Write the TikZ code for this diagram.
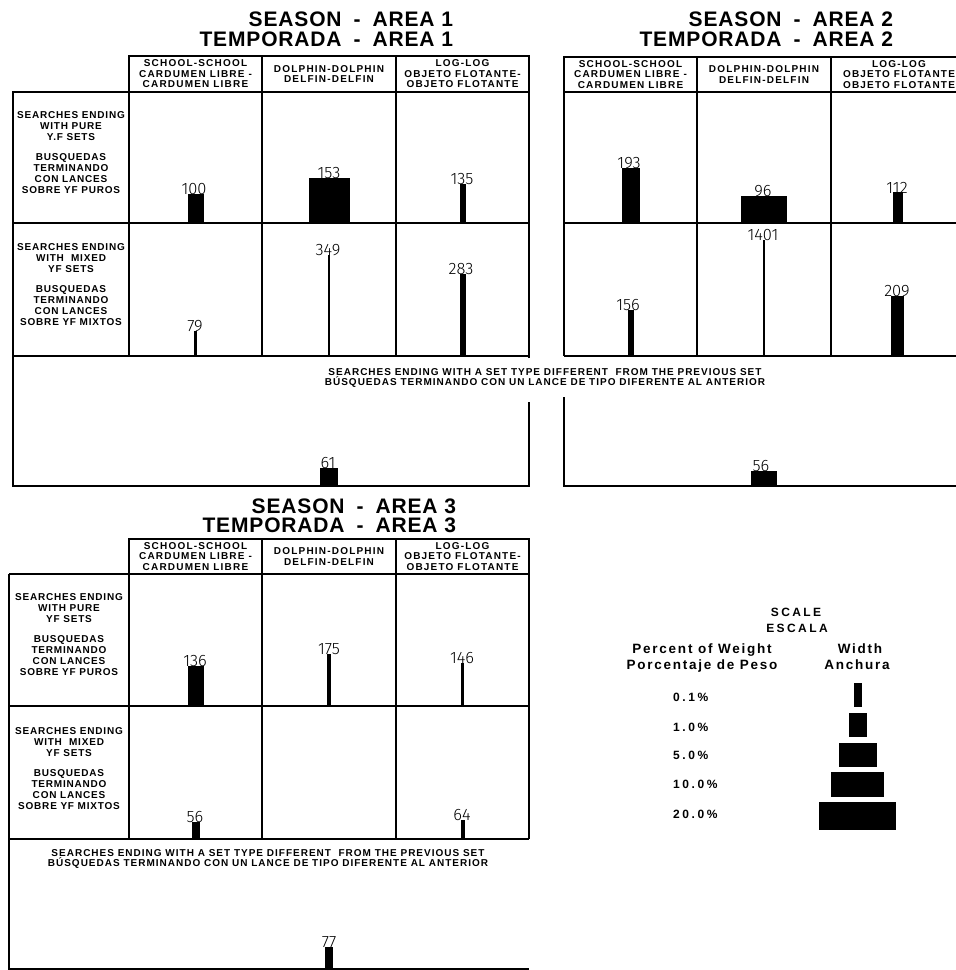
\documentclass[tikz,border=0pt]{standalone}
\usepackage{fontspec}
\setmainfont{Liberation Sans}
\newfontfamily\plotfont{Liberation Sans}
\newfontfamily\numfont{Fira Sans Light}

\begin{document}
\begin{tikzpicture}[
    x=1pt, y=-1pt,
    every node/.style={inner sep=0pt, outer sep=0pt},
    grid/.style={line width=1.4pt},
    bar/.style={fill=black},
    title/.style={anchor=east, font=\plotfont\bfseries\fontsize{21}{24}\selectfont\addfontfeature{LetterSpace=4}},
    colhead/.style={align=center, font=\plotfont\bfseries\fontsize{10}{10.5}\selectfont\addfontfeature{LetterSpace=12}},
    rowhead/.style={align=center, font=\plotfont\bfseries\fontsize{10}{11}\selectfont\addfontfeature{LetterSpace=8}},
    note/.style={align=center, font=\plotfont\bfseries\fontsize{10}{10}\selectfont\addfontfeature{LetterSpace=10}},
    count/.style={anchor=south, font=\numfont\fontsize{16.5}{17}\selectfont},
    scalehead/.style={font=\plotfont\bfseries\fontsize{12}{14}\selectfont\addfontfeature{LetterSpace=20}},
    scalesub/.style={anchor=base, font=\plotfont\bfseries\fontsize{13.5}{15}\selectfont\addfontfeature{LetterSpace=13}},
    pct/.style={anchor=west, font=\plotfont\bfseries\fontsize{12}{14}\selectfont\addfontfeature{LetterSpace=22}}
    ]
\useasboundingbox (0,0) rectangle (956,970);
\clip (0,0) rectangle (956,970);

% Area 1 - grid
\draw[grid] (129,56) rectangle (529,92);
\draw[grid] (262,56) -- (262,356) (396,56) -- (396,356) (129,92) -- (129,356);
\draw[grid] (13,223) -- (529,223) (13,356) -- (529,356);
\draw[grid] (529,358) -- (529,92) -- (13,92) -- (13,486) -- (529,486) -- (529,402);

% Area 1 - titles and headings
\node[title] (a1 season) at (453,19.5) {SEASON\hspace{12pt}-\hspace{12pt}AREA 1};
\node[title] (a1 temp) at (453,39.5) {TEMPORADA\hspace{12pt}-\hspace{12pt}AREA 1};
\node[colhead] (a1 school) at (195.5,74) {SCHOOL-SCHOOL\\CARDUMEN LIBRE -\\CARDUMEN LIBRE};
\node[colhead] (a1 dolphin) at (329,74) {DOLPHIN-DOLPHIN\\DELFIN-DELFIN};
\node[colhead] (a1 log) at (462.5,74) {LOG-LOG\\OBJETO FLOTANTE-\\OBJETO FLOTANTE};
\node[rowhead] (a1 pure) at (71,153) {SEARCHES ENDING\\WITH PURE\\Y.F SETS\\[9pt]BUSQUEDAS\\TERMINANDO\\CON LANCES\\SOBRE YF PUROS};
\node[rowhead] (a1 mixed) at (71,285) {SEARCHES ENDING\\WITH\ \ MIXED\\YF SETS\\[9pt]BUSQUEDAS\\TERMINANDO\\CON LANCES\\SOBRE YF MIXTOS};

% Area 1 - bars
\fill[bar] (187.5,194) rectangle (203.5,223);
\node[count] (a1 n100) at (194,195) {100};
\fill[bar] (308.5,178) rectangle (349.5,223);
\node[count] (a1 n153) at (329,179) {153};
\fill[bar] (459.5,184) rectangle (465.5,223);
\node[count] (a1 n135) at (462,185) {135};
\fill[bar] (193.7,331) rectangle (197.3,356);
\node[count] (a1 n79) at (195,332) {79};
\fill[bar] (328,255) rectangle (330,356);
\node[count] (a1 n349) at (328,256) {349};
\fill[bar] (459.5,274) rectangle (465.5,356);
\node[count] (a1 n283) at (461,275) {283};
\fill[bar] (320,468) rectangle (338,486);
\node[count] (a1 n61) at (328,469) {61};

% Note shared by areas 1 and 2
\node[note] (diff note) at (545,378) {SEARCHES ENDING WITH A SET TYPE DIFFERENT\ \ FROM THE PREVIOUS SET\\B\'USQUEDAS TERMINANDO CON UN LANCE DE TIPO DIFERENTE AL ANTERIOR};

% Area 2 - grid
\draw[grid] (564,57) rectangle (964,92);
\draw[grid] (564,92) -- (564,356) (697,57) -- (697,356) (831,57) -- (831,356);
\draw[grid] (564,223) -- (964,223) (564,356) -- (964,356);
\draw[grid] (564,397) -- (564,486) -- (964,486);

% Area 2 - titles and headings
\node[title] (a2 season) at (893,19.5) {SEASON\hspace{12pt}-\hspace{12pt}AREA 2};
\node[title] (a2 temp) at (893,39.5) {TEMPORADA\hspace{12pt}-\hspace{12pt}AREA 2};
\node[colhead] (a2 school) at (630.5,74.5) {SCHOOL-SCHOOL\\CARDUMEN LIBRE -\\CARDUMEN LIBRE};
\node[colhead] (a2 dolphin) at (764,74.5) {DOLPHIN-DOLPHIN\\DELFIN-DELFIN};
\node[colhead] (a2 log) at (899,74.5) {LOG-LOG\\OBJETO FLOTANTE\\OBJETO FLOTANTE};

% Area 2 - bars
\fill[bar] (621.5,168) rectangle (639.5,223);
\node[count] (a2 n193) at (629,169) {193};
\fill[bar] (741,196) rectangle (787,223);
\node[count] (a2 n96) at (763,197) {96};
\fill[bar] (892.5,192) rectangle (902.5,223);
\node[count] (a2 n112) at (897,193) {112};
\fill[bar] (627.5,310) rectangle (633.5,356);
\node[count] (a2 n156) at (628,311) {156};
\fill[bar] (763,240) rectangle (765,356);
\node[count] (a2 n1401) at (763,241) {1401};
\fill[bar] (891,296) rectangle (904,356);
\node[count] (a2 n209) at (897,297) {209};
\fill[bar] (751,471) rectangle (777,486);
\node[count] (a2 n56) at (761,472) {56};

% Area 3 - grid
\draw[grid] (129,539) rectangle (529,574);
\draw[grid] (262,539) -- (262,839) (396,539) -- (396,839) (129,574) -- (129,839) (529,574) -- (529,839);
\draw[grid] (9,574) -- (529,574) (9,706) -- (529,706) (9,839) -- (529,839);
\draw[grid] (9,574) -- (9,969) -- (529,969);

% Area 3 - titles and headings
\node[title] (a3 season) at (456,506) {SEASON\hspace{12pt}-\hspace{12pt}AREA 3};
\node[title] (a3 temp) at (456,525) {TEMPORADA\hspace{12pt}-\hspace{12pt}AREA 3};
\node[colhead] (a3 school) at (195.5,556.5) {SCHOOL-SCHOOL\\CARDUMEN LIBRE -\\CARDUMEN LIBRE};
\node[colhead] (a3 dolphin) at (329,556.5) {DOLPHIN-DOLPHIN\\DELFIN-DELFIN};
\node[colhead] (a3 log) at (462.5,556.5) {LOG-LOG\\OBJETO FLOTANTE-\\OBJETO FLOTANTE};
\node[rowhead] (a3 pure) at (69,635) {SEARCHES ENDING\\WITH PURE\\YF SETS\\[9pt]BUSQUEDAS\\TERMINANDO\\CON LANCES\\SOBRE YF PUROS};
\node[rowhead] (a3 mixed) at (69,769) {SEARCHES ENDING\\WITH\ \ MIXED\\YF SETS\\[9pt]BUSQUEDAS\\TERMINANDO\\CON LANCES\\SOBRE YF MIXTOS};
\node[note] (a3 note) at (268,858.5) {SEARCHES ENDING WITH A SET TYPE DIFFERENT\ \ FROM THE PREVIOUS SET\\B\'USQUEDAS TERMINANDO CON UN LANCE DE TIPO DIFERENTE AL ANTERIOR};

% Area 3 - bars
\fill[bar] (187.5,666) rectangle (203.5,706);
\node[count] (a3 n136) at (195,667) {136};
\fill[bar] (327.25,654) rectangle (330.75,706);
\node[count] (a3 n175) at (329,655) {175};
\fill[bar] (461,663) rectangle (464,706);
\node[count] (a3 n146) at (462,664) {146};
\fill[bar] (191.5,822) rectangle (199.5,839);
\node[count] (a3 n56) at (195,823) {56};
\fill[bar] (460.5,820) rectangle (464.5,839);
\node[count] (a3 n64) at (462,821) {64};
\fill[bar] (325,947) rectangle (333,969);
\node[count] (a3 n77) at (329,948) {77};

% Scale
\node[scalehead] (scale) at (796,612) {SCALE};
\node[scalehead] (escala) at (797,628) {ESCALA};
\node[scalesub] (percent) at (702,653) {Percent of Weight};
\node[scalesub] (porcentaje) at (702,669) {Porcentaje de Peso};
\node[scalesub] (width) at (860,653) {Width};
\node[scalesub] (anchura) at (857,669) {Anchura};
\node[pct] (p01) at (673,697) {0.1\%};
\node[pct] (p1) at (673,727) {1.0\%};
\node[pct] (p5) at (673,755) {5.0\%};
\node[pct] (p10) at (673,784) {10.0\%};
\node[pct] (p20) at (673,814) {20.0\%};
\fill[bar] (854,683) rectangle (862,707);
\fill[bar] (849,713) rectangle (867,737);
\fill[bar] (839,743) rectangle (877,767);
\fill[bar] (831,772) rectangle (884,797);
\fill[bar] (819,802) rectangle (896,830);

\end{tikzpicture}
\end{document}
